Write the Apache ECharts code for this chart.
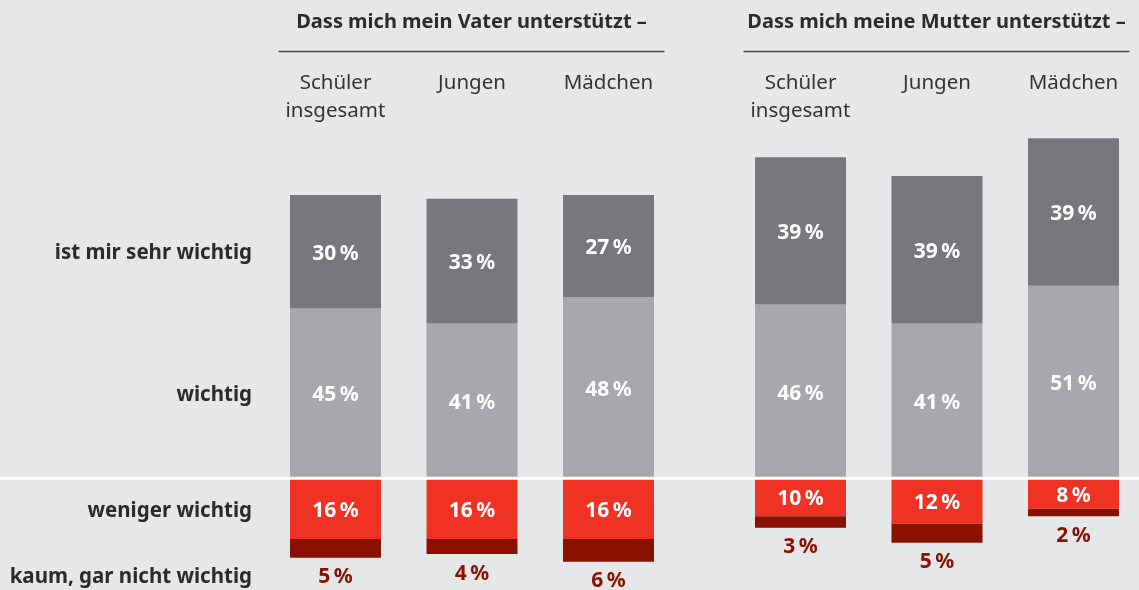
<!DOCTYPE html>
<html>
<head>
  <meta charset="utf-8">
  <title>Unterstützung durch Vater und Mutter</title>
  <script src="https://cdn.jsdelivr.net/npm/echarts@6/dist/echarts.min.js"></script>
  <style>
    html, body { margin: 0; padding: 0; background: #e6e7e9; }
  </style>
</head>
<body>
  <div id="main" style="width: 1139px; height: 590px;"></div>

  <script>
    // Kategorien
    const categories = ['Schüler\ninsgesamt', 'Jungen', 'Mädchen'];
    const groupTitles = ['Dass mich mein Vater unterstützt –', 'Dass mich meine Mutter unterstützt –'];
    const rowLabels = ['ist mir sehr wichtig', 'wichtig', 'weniger wichtig', 'kaum, gar nicht wichtig'];

    // Werte in Prozent
    const vaterSehr    = [30, 33, 27];
    const vaterWichtig = [45, 41, 48];
    const vaterWeniger = [16, 16, 16];
    const vaterKaum    = [5, 4, 6];

    const mutterSehr    = [39, 39, 39];
    const mutterWichtig = [46, 41, 51];
    const mutterWeniger = [10, 12, 8];
    const mutterKaum    = [3, 5, 2];

    const font = 'Noto Sans';
    const pct = p => Math.abs(p.value) + '\u2009%';

    function barSeries(idx, sehr, wichtig, weniger, kaum) {
      const base = {
        type: 'bar',
        xAxisIndex: idx,
        yAxisIndex: idx,
        stack: 'g' + idx,
        barWidth: 91,
        silent: true,
        label: {
          show: true,
          position: 'inside',
          offset: [0, 2],
          formatter: pct,
          color: '#fff',
          fontFamily: font,
          fontWeight: 'bold',
          fontSize: 21
        }
      };
      return [
        Object.assign({}, base, { name: 'wichtig', data: wichtig, itemStyle: { color: '#a7a8ab' } }),
        Object.assign({}, base, { name: 'sehr wichtig', data: sehr, itemStyle: { color: '#77787b' } }),
        Object.assign({}, base, { name: 'weniger wichtig', data: weniger.map(v => -v), itemStyle: { color: '#ef3224' } }),
        Object.assign({}, base, {
          name: 'kaum', data: kaum.map(v => -v), itemStyle: { color: '#8a1100' },
          label: Object.assign({}, base.label, { position: 'bottom', distance: 7, color: '#8a1100' })
        })
      ];
    }

    const grids = [267.25, 732.25].map(left => ({
      left: left, width: 409.5, top: 100.5, height: 489.5, outerBoundsMode: 'none'
    }));

    const xAxes = [0, 1].map(i => ({
      type: 'category',
      gridIndex: i,
      position: 'top',
      data: categories,
      axisLine: { show: false },
      axisTick: { show: false },
      axisLabel: {
        verticalAlign: 'top',
        margin: 31.5,
        fontFamily: font,
        fontSize: 20.5,
        lineHeight: 28,
        color: '#333'
      }
    }));

    const yAxes = [0, 1].map(i => ({
      type: 'value',
      gridIndex: i,
      min: -29.5,
      max: 100,
      show: false,
      splitLine: { show: false }
    }));

    const headerCenters = [471.5, 936.5];
    const graphics = [];
    groupTitles.forEach((t, i) => {
      graphics.push({
        type: 'text', x: headerCenters[i], y: 22,
        style: { text: t, align: 'center', verticalAlign: 'middle', fill: '#2b2b2b',
                 font: 'bold 20px "Noto Sans"' }
      });
      graphics.push({
        type: 'line', shape: { x1: headerCenters[i] - 193, y1: 51.5, x2: headerCenters[i] + 193, y2: 51.5 },
        style: { stroke: '#4a4a4a', lineWidth: 1.5 }
      });
    });
    const rowY = [253, 395, 511, 577];
    rowLabels.forEach((t, i) => {
      graphics.push({
        type: 'text', x: 252, y: rowY[i],
        style: { text: t, align: 'right', verticalAlign: 'middle', fill: '#2b2b2b',
                 font: 'bold 20.5px "Noto Sans"' }
      });
    });
    // weiße Nulllinie
    graphics.push({
      type: 'line', z: 100,
      shape: { x1: 0, y1: 478.3, x2: 1139, y2: 478.3 },
      style: { stroke: '#ffffff', lineWidth: 3 }
    });

    const chart = echarts.init(document.getElementById('main'));
    chart.setOption({
      backgroundColor: '#e6e7e9',
      animation: false,
      grid: grids,
      xAxis: xAxes,
      yAxis: yAxes,
      series: barSeries(0, vaterSehr, vaterWichtig, vaterWeniger, vaterKaum)
        .concat(barSeries(1, mutterSehr, mutterWichtig, mutterWeniger, mutterKaum)),
      graphic: graphics
    });
  </script>
</body>
</html>
